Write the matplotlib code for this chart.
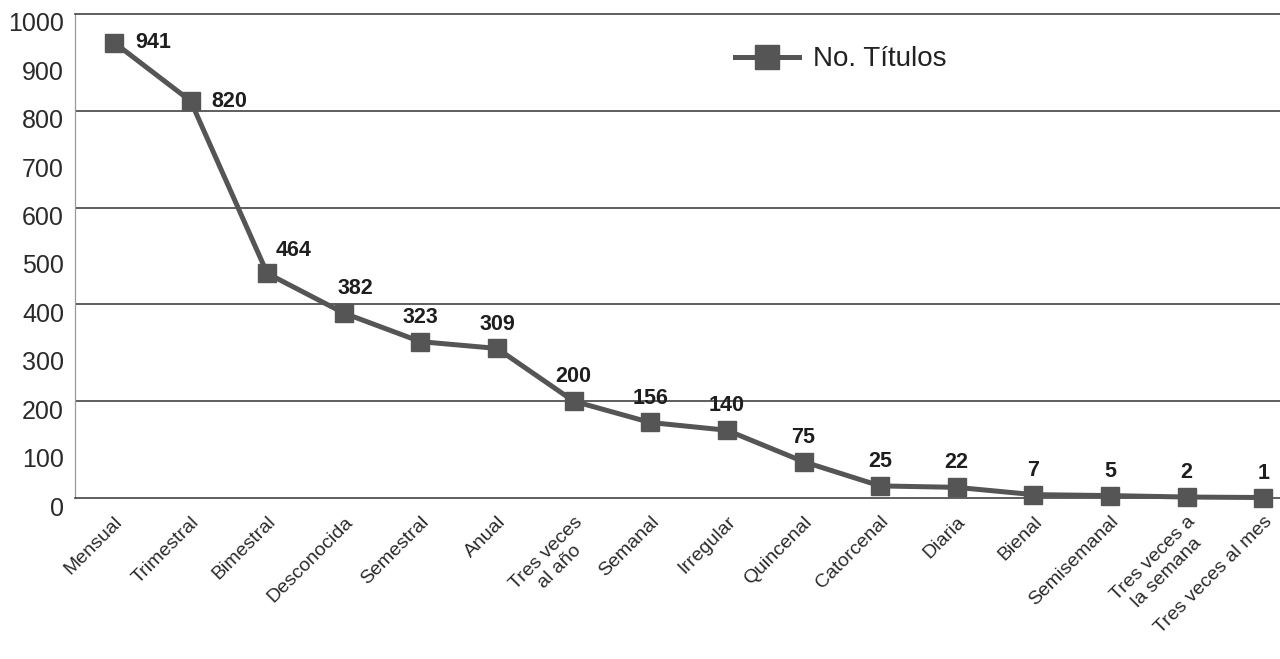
import matplotlib
matplotlib.use("Agg")
import matplotlib.pyplot as plt
import matplotlib.transforms as mtransforms

categorias = ["Mensual", "Trimestral", "Bimestral", "Desconocida", "Semestral",
              "Anual", "Tres veces\nal año", "Semanal", "Irregular", "Quincenal",
              "Catorcenal", "Diaria", "Bienal", "Semisemanal",
              "Tres veces a\nla semana", "Tres veces al mes"]
titulos = [941, 820, 464, 382, 323, 309, 200, 156, 140, 75, 25, 22, 7, 5, 2, 1]
y_ticks = [0, 100, 200, 300, 400, 500, 600, 700, 800, 900, 1000]
serie = "No. Títulos"

plt.rcParams["font.family"] = ["Liberation Sans", "DejaVu Sans"]
gris = "#555555"

fig = plt.figure(figsize=(12.8, 6.59), dpi=100)
ax = fig.add_axes([0.0586, 0.2443, 0.9414, 0.7345])

x = list(range(len(categorias)))
ax.plot(x, titulos, color=gris, linewidth=3.6, marker="s", markersize=13,
        markerfacecolor=gris, markeredgecolor=gris, label=serie, zorder=5,
        clip_on=False)

# etiquetas de valor
for i, v in enumerate(titulos):
    if i < 2:
        off, ha, va = (15, 0), "left", "center"
    elif i == 2:
        off, ha, va = (6, 9), "left", "bottom"
    elif i == 3:
        off, ha, va = (8, 10), "center", "bottom"
    else:
        off, ha, va = (0, 10), "center", "bottom"
    ax.annotate(str(v), (i, v), xytext=off, textcoords="offset points",
                ha=ha, va=va, fontsize=15.5, fontweight="bold", color="#1e1e1e")

ax.set_xlim(-0.51, 15.22)
ax.set_ylim(0, 1000)
ax.set_yticks(y_ticks)
ax.tick_params(axis="y", length=0, pad=8, labelsize=18, labelcolor="#2a2a2a")
ax.tick_params(axis="x", length=0, pad=11, labelsize=14, labelcolor="#2a2a2a")
ax.set_xticks(x)
ax.set_xticklabels(categorias, rotation=45, ha="right", rotation_mode="anchor",
                   multialignment="center")

# las etiquetas del eje y quedan un poco por debajo de la línea
off = mtransforms.ScaledTranslation(0, -8 / 100, fig.dpi_scale_trans)
for lbl in ax.get_yticklabels():
    lbl.set_transform(lbl.get_transform() + off)

for yv in [200, 400, 600, 800]:
    ax.axhline(yv, color="#333333", linewidth=1.1, zorder=1)
ax.spines["top"].set_color("#333333")
ax.spines["top"].set_linewidth(1.1)
ax.spines["bottom"].set_color("#333333")
ax.spines["bottom"].set_linewidth(1.1)
ax.spines["left"].set_color("#999999")
ax.spines["left"].set_linewidth(0.9)
ax.spines["right"].set_visible(False)

leg = ax.legend(loc="upper left", bbox_to_anchor=(0.527, 0.985), frameon=False,
                fontsize=20, handlelength=2.3, handletextpad=0.5, markerscale=1.3)
for t in leg.get_texts():
    t.set_color("#222222")

fig.savefig("out.png", dpi=100)
